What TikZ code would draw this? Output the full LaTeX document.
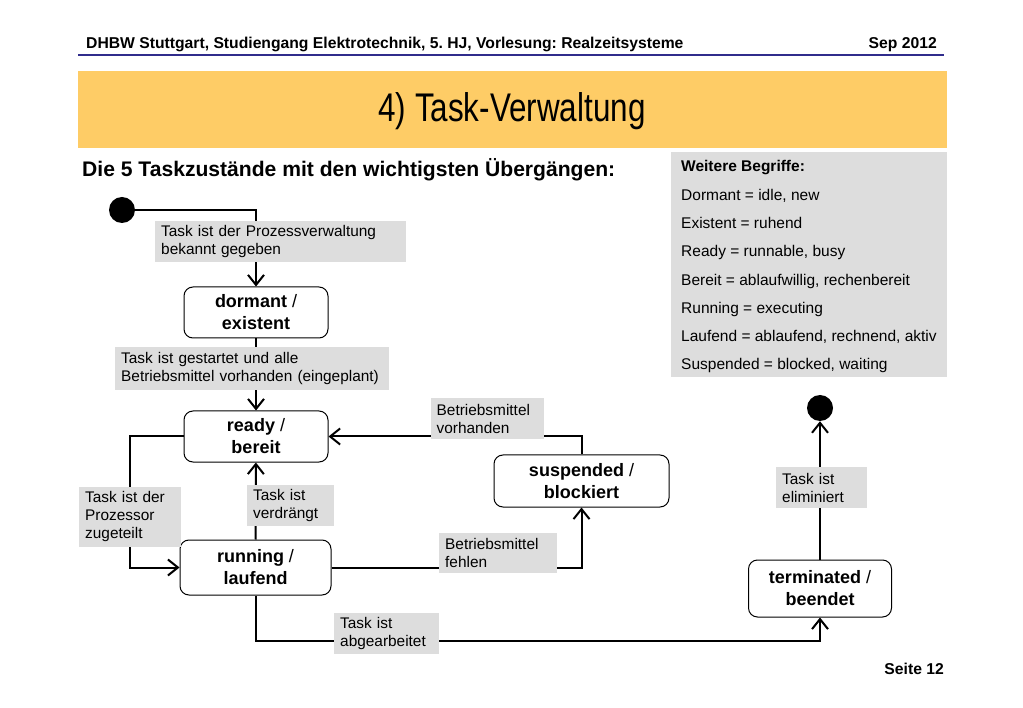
\documentclass[tikz,border=0pt]{standalone}
\usepackage{fontspec}
\setmainfont{Liberation Sans}
\newfontfamily\titlefont[FakeStretch=0.785]{Liberation Sans}
\usetikzlibrary{arrows.meta}
\definecolor{bandorange}{RGB}{254,204,102}
\definecolor{guardgray}{RGB}{221,221,221}
\definecolor{headblue}{RGB}{48,44,140}
\frenchspacing

\begin{document}
\begin{tikzpicture}[x=1pt, y=-1pt,
  state/.style={draw, line width=1pt, rounded corners=9pt, align=center,
    font=\fontsize{18}{22}\selectfont\bfseries},
  guard/.style={fill=guardgray, anchor=north west, align=left, inner xsep=6pt,
    font=\fontsize{15.4}{18}\selectfont},
  txt/.style={anchor=base west, inner sep=0pt},
  trans/.style={line width=2pt, -{Straight Barb[length=10pt, width=16pt]}},
  blob/.style={circle, fill=black, minimum size=26pt, inner sep=0pt}]
\useasboundingbox (0,0) rectangle (1023,708);

% page head and title band
\node[txt, font=\fontsize{15.7}{18}\selectfont\bfseries] (head) at (86,49)
  {DHBW Stuttgart, Studiengang Elektrotechnik, 5. HJ, Vorlesung: Realzeitsysteme};
\node[txt, anchor=base east, font=\fontsize{15.7}{18}\selectfont\bfseries] (date) at (937,49) {Sep 2012};
\draw[headblue, line width=2pt] (78,55) -- (944,55);
\fill[bandorange] (78,71) rectangle (947,148);
\node[txt, anchor=base, font=\titlefont\fontsize{40}{44}\selectfont] (title) at (512,121.7) {4) Task-Verwaltung};
\node[txt, font=\fontsize{21.1}{24}\selectfont\bfseries] (subtitle) at (82,176.7)
  {Die 5 Taskzustände mit den wichtigsten Übergängen:};

% box with the other terms
\fill[guardgray] (671,152) rectangle (947,377);
\node[txt, font=\fontsize{15.5}{18}\selectfont\bfseries] (terms) at (681,171.5) {Weitere Begriffe:};
\foreach \term [count=\i] in {{Dormant = idle, new}, {Existent = ruhend}, {Ready = runnable, busy},
    {Bereit = ablaufwillig, rechenbereit}, {Running = executing},
    {Laufend = ablaufend, rechnend, aktiv}, {Suspended = blocked, waiting}}
  \node[txt, font=\fontsize{15.5}{18}\selectfont] (term\i) at (681,{200.5+28.25*(\i-1)}) {\term};

% states
\node[blob] (start) at (122,210) {};
\node[state, minimum width=144pt, minimum height=51pt] (dormant) at (256,312.5) {dormant \textmd{/}\\existent};
\node[state, minimum width=144pt, minimum height=51pt] (ready) at (256,436.5) {ready \textmd{/}\\bereit};
\node[state, minimum width=151pt, minimum height=55pt] (running) at (255.5,567.5) {running \textmd{/}\\laufend};
\node[state, minimum width=175pt, minimum height=52pt] (suspended) at (581.5,481) {suspended \textmd{/}\\blockiert};
\node[state, minimum width=143pt, minimum height=57pt] (terminated) at (820,588.5) {terminated \textmd{/}\\beendet};
\node[blob] (end) at (820,408) {};

% transitions
\draw[trans] (start) -| (dormant);
\draw[trans] (dormant) -- (ready);
\draw[trans] (ready.west) -- ++(-54,0) |- (running.west);
\draw[trans] (running) -- (ready);
\draw[trans] (suspended.north) |- (ready.east);
\draw[trans] (running.east) -| (suspended.south);
\draw[trans] (running.south) -- ++(0,45) -| (terminated.south);
\draw[trans] (terminated) -- (end);

% guard labels go on top of the lines
\node[guard, text width=239pt, minimum height=41pt] (g1) at (155,221) {Task ist der Prozessverwaltung\\bekannt gegeben};
\node[guard, text width=262pt, minimum height=43pt] (g2) at (115,347) {Task ist gestartet und alle\\Betriebsmittel vorhanden (eingeplant)};
\node[guard, text width=90pt, minimum height=60pt] (g3) at (79,486.5) {Task ist der\\Prozessor\\zugeteilt};
\node[guard, text width=75pt, minimum height=41pt] (g4) at (247,485) {Task ist\\verdrängt};
\node[guard, text width=101pt, minimum height=41pt] (g5) at (430.5,398) {Betriebsmittel\\vorhanden};
\node[guard, text width=106pt, minimum height=40pt] (g6) at (439,533) {Betriebsmittel\\fehlen};
\node[guard, text width=93pt, minimum height=41pt] (g7) at (334,613) {Task ist\\abgearbeitet};
\node[guard, text width=79pt, minimum height=41pt] (g8) at (776,467) {Task ist\\eliminiert};

\node[txt, anchor=base east, font=\fontsize{15.7}{18}\selectfont\bfseries] (page) at (944,674) {Seite 12};
\end{tikzpicture}
\end{document}
